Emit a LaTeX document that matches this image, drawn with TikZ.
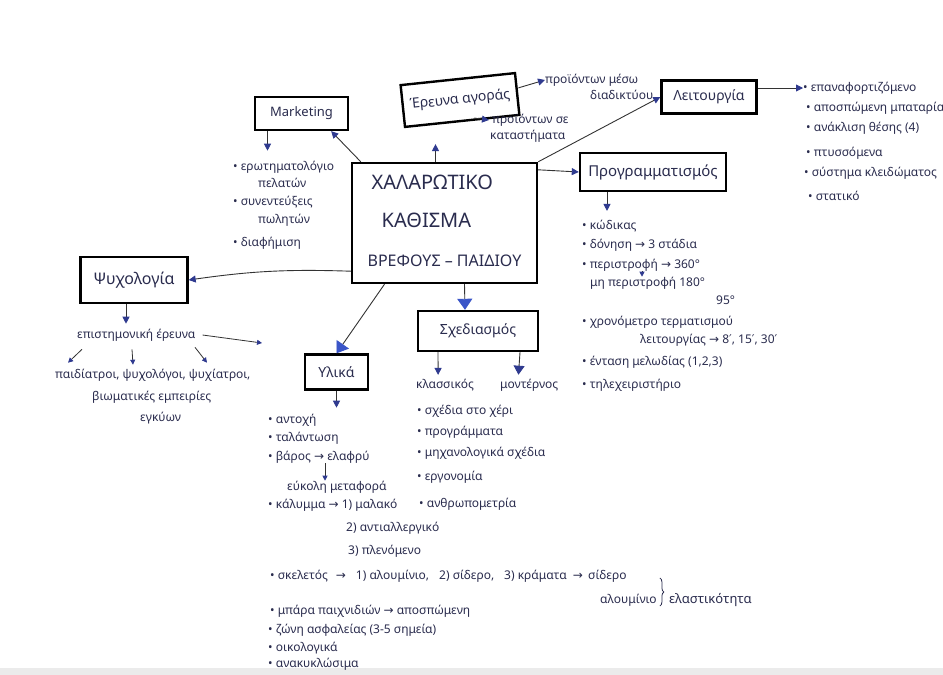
\documentclass[tikz,border=0pt]{standalone}
\usepackage{fontspec}
\setmainfont{Noto Sans}
\newfontfamily\symfont{DejaVu Sans}
\usetikzlibrary{arrows.meta,decorations.pathreplacing}
\definecolor{ink}{HTML}{2A2C4E}
\definecolor{tipblue}{HTML}{2F3A8F}
\definecolor{bigblue}{HTML}{3A55C8}
\newcommand{\ra}{{\symfont →}}
\newcommand{\mnt}{{\symfont ′}}

\begin{document}
\begin{tikzpicture}[x=1pt,y=-1pt]

        \tikzset{
            box/.style={draw=black, line width=2.4pt, fill=white, inner sep=4pt, text=ink, font=\fontsize{14}{16}\selectfont},
            item/.style={anchor=west, inner sep=0pt, text=ink, font=\fontsize{12}{14}\selectfont},
            link/.style={draw=black!80, line width=0.9pt, -{Triangle[length=7pt,width=7pt,color=tipblue]}},
            biglink/.style={draw=black!80, line width=0.9pt, -{Triangle[length=11pt,width=15pt,color=bigblue]}},
            small/.style={draw=black!80, line width=0.8pt, -{Triangle[length=5pt,width=5pt,color=tipblue]}}
        }

        \useasboundingbox (0,0) rectangle (943,675);
        \fill[white] (0,0) rectangle (943,675);
        \fill[black!8] (0,668) rectangle (943,675);

        % boxes
        \node[box, minimum width=185pt, minimum height=120pt, font=\fontsize{20}{24}\selectfont] (centre) at (444.5,223)
            {\begin{tabular}{@{}l@{}}\hspace{4pt}ΧΑΛΑΡΩΤΙΚΟ\\[14pt]\hspace{14pt}ΚΑΘΙΣΜΑ\\[15pt]\fontsize{16}{18}\selectfont ΒΡΕΦΟΥΣ – ΠΑΙΔΙΟΥ\end{tabular}};
        \node[box, minimum width=93pt, minimum height=33pt, font=\fontsize{13}{15}\selectfont] (marketing) at (301.5,113.5) {Marketing};
        \node[box, minimum width=115pt, minimum height=42pt, rotate=6] (erevna) at (460,100) {Έρευνα αγοράς};
        \node[box, minimum width=95pt, minimum height=33pt] (leitourgia) at (709,97) {Λειτουργία};
        \node[box, minimum width=146pt, minimum height=38pt, font=\fontsize{15}{17}\selectfont] (programm) at (653,172) {Προγραμματισμός};
        \node[box, minimum width=107pt, minimum height=46pt, font=\fontsize{16}{18}\selectfont] (psycho) at (134,280) {Ψυχολογία};
        \node[box, minimum width=63pt, minimum height=35pt] (ylika) at (336.5,372) {Υλικά};
        \node[box, minimum width=120pt, minimum height=40pt] (sxediasmos) at (478,331) {Σχεδιασμός};

        % lists
        \foreach \x/\y/\t [count=\i] in {233/167/{• ερωτηματολόγιο}, 258/183/{πελατών}, 233/202/{• συνεντεύξεις}, 258/220/{πωλητών}, 233/243/{• διαφήμιση}}
            \node[item] (mk\i) at (\x,\y) {\t};

        \node[item] (er1) at (545,80) {προϊόντων μέσω};
        \node[item] (er2) at (590,95) {διαδικτύου};
        \node[item] (er3) at (492,120) {προϊόντων σε};
        \node[item] (er4) at (490,136) {καταστήματα};

        \foreach \x/\y/\t [count=\i] in {803/88/{• επαναφορτιζόμενο}, 806/108/{• αποσπώμενη μπαταρία}, 806/128/{• ανάκλιση θέσης (4)}, 806/153/{• πτυσσόμενα}, 804/173/{• σύστημα κλειδώματος}, 808/196/{• στατικό}}
            \node[item] (le\i) at (\x,\y) {\t};

        \foreach \x/\y/\t [count=\i] in {582/226/{• κώδικας}, 582/245/{• δόνηση \ra\ 3 στάδια}, 582/265/{• περιστροφή \ra\ 360°}, 590/283/{μη περιστροφή 180°}, 716/300/{95°}, 582/322/{• χρονόμετρο τερματισμού}, 640/340/{λειτουργίας \ra\ 8\mnt, 15\mnt, 30\mnt}, 582/362/{• ένταση μελωδίας (1,2,3)}, 582/385/{• τηλεχειριστήριο}}
            \node[item] (pr\i) at (\x,\y) {\t};

        \foreach \x/\y/\t [count=\i] in {77/335/{επιστημονική έρευνα}, 55/375/{παιδίατροι, ψυχολόγοι, ψυχίατροι,}, 92/397/{βιωματικές εμπειρίες}, 140/418/{εγκύων}}
            \node[item] (ps\i) at (\x,\y) {\t};

        \foreach \x/\y/\t [count=\i] in {268/420/{• αντοχή}, 268/438/{• ταλάντωση}, 268/457/{• βάρος \ra\ ελαφρύ}, 287/487/{εύκολη μεταφορά}, 268/505/{• κάλυμμα \ra\ 1) μαλακό}, 346/528/{2) αντιαλλεργικό}, 348/551/{3) πλενόμενο}, 270/576/{• σκελετός\hspace{8pt}\ra\hspace{10pt}1) αλουμίνιο,\hspace{10pt}2) σίδερο,\hspace{10pt}3) κράματα\hspace{6pt}\ra}, 270/611/{• μπάρα παιχνιδιών \ra\ αποσπώμενη}, 268/630/{• ζώνη ασφαλείας (3-5 σημεία)}, 268/648/{• οικολογικά}, 268/664/{• ανακυκλώσιμα}}
            \node[item] (yl\i) at (\x,\y) {\t};
        \node[item] (sidero) at ([xshift=5pt]yl8.east) {σίδερο};
        \node[item] (alouminio) at ([xshift=12pt,yshift=-24pt]sidero.west) {αλουμίνιο};
        \node[item, font=\fontsize{13}{15}\selectfont] (elast) at ([xshift=12pt]alouminio.east) {ελαστικότητα};

        \foreach \x/\y/\t [count=\i] in {416/385/{κλασσικός}, 500/385/{μοντέρνος}, 417/411/{• σχέδια στο χέρι}, 417/432/{• προγράμματα}, 417/453/{• μηχανολογικά σχέδια}, 417/477/{• εργονομία}, 419/504/{• ανθρωπομετρία}}
            \node[item] (sx\i) at (\x,\y) {\t};

        % connectors from the centre
        \draw[link] ([xshift=10pt]centre.north west) -- ([xshift=-18pt]marketing.south east);
        \draw[link, shorten >=22pt] ([xshift=-9pt]centre.north) -- ([xshift=-9pt]centre.north |- erevna.south);
        \draw[link] (centre.north east) -- (leitourgia.west);
        \draw[link] ([yshift=-8pt]centre.north east) -- (programm.west);
        \draw[link] ([yshift=13pt]centre.south west) to[bend right=5] (psycho.east);
        \draw[biglink] ([xshift=-60pt]centre.south) -- (ylika.north);
        \draw[biglink] ([xshift=20pt]centre.south) -- ([xshift=-13pt]sxediasmos.north);

        % connectors from the boxes
        \draw[link, shorten >=10pt] ([xshift=-34pt]marketing.south) -- ([xshift=-34pt]marketing.south |- mk1.north);
        \draw[link] ([yshift=6pt]erevna.east) -- (er1.west);
        \draw[link] ([xshift=12pt,yshift=4pt]erevna.south) -- ([xshift=-3pt]er3.west);
        \draw[link] ([yshift=9pt]leitourgia.east) -- (le1.west);
        \draw[link, shorten >=9pt] ([xshift=-46pt]programm.south) -- ([xshift=-46pt]programm.south |- pr1.north);
        \draw[small] ([xshift=60pt]pr3.south west) -- ([xshift=52pt]pr4.north west);
        \draw[link, shorten >=5pt] ([xshift=-8pt]psycho.south) -- ([xshift=-8pt]psycho.south |- ps1.north);
        \coordinate (psyend) at (262,343);
        \draw[small] ([xshift=7pt]ps1.east) -- (psyend);
        \draw[small] ([xshift=5pt,yshift=-8pt]ps1.south west) -- ([xshift=13pt,yshift=6pt]ps2.north west);
        \draw[small] ([xshift=55pt,yshift=-8pt]ps1.south west) -- ([xshift=78pt,yshift=4pt]ps2.north west);
        \draw[small] ([xshift=118pt,yshift=-6pt]ps1.south west) -- ([xshift=152pt,yshift=6pt]ps2.north west);
        \draw[link, shorten >=6pt] (ylika.south) -- (ylika.south |- yl1.north);
        \draw[small] ([xshift=57pt]yl3.south west) -- ([xshift=38pt]yl4.north west);
        \draw[decorate, decoration={brace, amplitude=4pt}, draw=ink, line width=0.8pt]
            ([xshift=3pt,yshift=22pt]alouminio.east) -- ([xshift=3pt,yshift=-6pt]alouminio.east);
        \draw[link, shorten >=4pt] ([xshift=-40pt]sxediasmos.south) -- ([xshift=-7pt]sx1.north);
        \draw[draw=black!80, line width=0.9pt, -{Triangle[length=9pt,width=11pt,color=tipblue]}, shorten >=4pt]
            ([xshift=42pt]sxediasmos.south) -- ([xshift=-11pt]sx2.north);

    \end{tikzpicture}
\end{document}
